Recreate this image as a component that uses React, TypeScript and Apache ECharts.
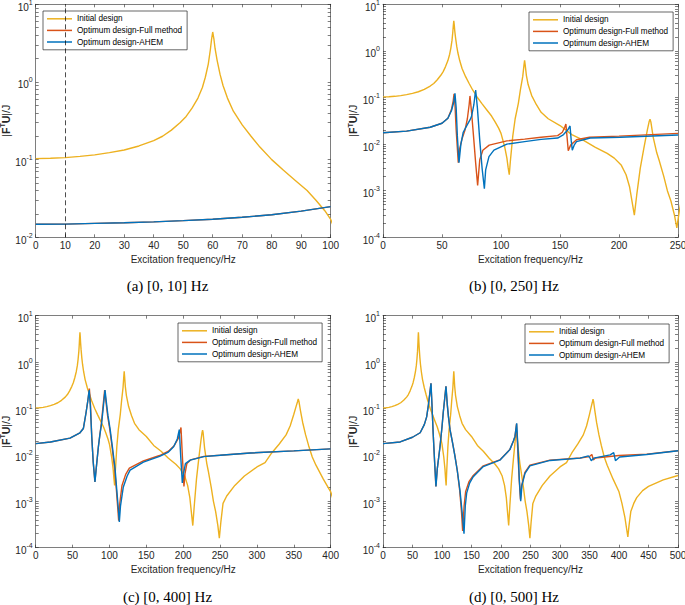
import React, { useEffect, useRef } from 'react';
import * as echarts from 'echarts';

const seriesNames = ['Initial design', 'Optimum design-Full method', 'Optimum design-AHEM'];
const seriesColors = ['#EDB120', '#D95319', '#0072BD'];
const captions = ['(a) [0, 10] Hz', '(b) [0, 250] Hz', '(c) [0, 400] Hz', '(d) [0, 500] Hz'];
const xMaxes = [100, 250, 400, 500];
const xIntervals = [10, 50, 50, 50];
const yMins = [0.01, 0.0001, 0.0001, 0.0001];
const yMaxes = [10, 10, 10, 10];
const markerFreq = 10;

// Initial design (same structure in every panel)
const initialDesign = [
  [0, 0.103], [5, 0.104], [10, 0.106], [15, 0.11], [20, 0.115], [25, 0.123], [30, 0.133], [35, 0.15], [40, 0.176],
  [43, 0.2], [46, 0.24], [49, 0.3], [51, 0.36], [53, 0.46], [55, 0.62], [56.5, 0.85], [57.5, 1.15], [58.5, 1.7],
  [59.2, 2.6], [59.6, 3.5], [60, 4.4], [60.4, 3.6], [60.8, 2.7], [61.5, 1.9], [62.5, 1.25], [63.5, 0.9], [65, 0.62],
  [67, 0.42], [70, 0.28], [73, 0.2], [76, 0.145], [80, 0.1], [84, 0.073], [88, 0.054], [92, 0.04], [95, 0.03],
  [98, 0.022], [100, 0.017], [103, 0.009], [105, 0.005], [106, 0.0032], [107, 0.0022], [108, 0.0045], [110, 0.015],
  [112, 0.035], [114.7, 0.075], [116.5, 0.15], [118.4, 0.28], [119.5, 0.5], [120, 0.63], [120.5, 0.5], [121.5, 0.3],
  [123, 0.19], [126, 0.11], [130, 0.07], [134, 0.048], [140, 0.035], [150, 0.025], [160, 0.016], [170, 0.012],
  [180, 0.0085], [190, 0.0063], [196, 0.005], [202, 0.0035], [206, 0.0022], [209, 0.0012], [211, 0.0006], [213, 0.0003],
  [215, 0.0008], [218, 0.003], [221, 0.008], [224, 0.02], [225.5, 0.03], [226.3, 0.034], [227, 0.03], [229, 0.014],
  [232, 0.0065], [234, 0.0045], [238, 0.002], [241, 0.001], [244, 0.0006], [247, 0.0003], [249, 0.00016], [251, 0.00035],
  [254, 0.0009], [259, 0.0013], [270, 0.0022], [283, 0.0035], [300, 0.0055], [311, 0.0068], [320, 0.011], [330, 0.017],
  [339.5, 0.027], [345, 0.042], [350, 0.075], [353, 0.11], [355, 0.14], [356, 0.16], [357, 0.14], [359, 0.09],
  [362, 0.05], [366, 0.027], [370, 0.016], [375, 0.009], [380, 0.006], [390, 0.003], [400, 0.0016], [405, 0.0009],
  [410, 0.00045], [413, 0.00025], [415, 0.00017], [417, 0.0003], [420, 0.0006], [425, 0.0009], [430, 0.0012],
  [440, 0.0017], [450, 0.0021], [475, 0.0029], [500, 0.0036],
];

// (a) [0, 10] Hz
const fullA = [
  [0, 0.0147], [10, 0.0148], [20, 0.0151], [30, 0.0154], [40, 0.0158], [50, 0.0164], [60, 0.0171], [70, 0.0181],
  [80, 0.0195], [90, 0.0217], [100, 0.0248],
];
const ahemA = [
  [0, 0.0147], [10, 0.0148], [20, 0.0151], [30, 0.0154], [40, 0.0158], [50, 0.0164], [60, 0.0171], [70, 0.0181],
  [80, 0.0195], [90, 0.0217], [100, 0.0248],
];

// (b) [0, 250] Hz
const fullB = [
  [0, 0.0175], [20, 0.019], [40, 0.023], [50, 0.028], [55, 0.036], [58, 0.055], [59.5, 0.085], [60.2, 0.12], [61, 0.07],
  [62, 0.02], [63.8, 0.004], [65, 0.008], [67, 0.013], [69.5, 0.02], [71.5, 0.035], [73, 0.07], [73.7, 0.108], [75, 0.05],
  [77, 0.012], [78.5, 0.004], [80.2, 0.0013], [82, 0.0046], [84.6, 0.0074], [90, 0.0095], [105, 0.0117], [120, 0.0128],
  [134, 0.014], [148, 0.0152], [152, 0.018], [154, 0.023], [155, 0.027], [156, 0.014], [157, 0.0072], [159, 0.0095],
  [164, 0.0124], [175, 0.014], [200, 0.0148], [250, 0.017],
];
const ahemB = [
  [0, 0.0175], [20, 0.019], [40, 0.023], [50, 0.028], [55, 0.036], [58, 0.052], [60, 0.08], [61, 0.123], [62, 0.06],
  [63, 0.015], [64.4, 0.004], [66, 0.01], [68, 0.018], [71, 0.025], [73.7, 0.033], [75, 0.039], [77, 0.07], [78.5, 0.145],
  [80, 0.06], [82, 0.012], [84, 0.003], [85.9, 0.0011], [87, 0.0028], [89.8, 0.0054], [94, 0.0074], [105, 0.01],
  [120, 0.0113], [134, 0.0126], [148, 0.0135], [153, 0.016], [156.5, 0.02], [158.5, 0.0245], [159.5, 0.012],
  [160.4, 0.0074], [162, 0.0095], [164, 0.0113], [175.6, 0.0135], [201, 0.014], [250, 0.0157],
];

// (c) [0, 400] Hz
const fullC = [
  [0, 0.0175], [20, 0.019], [46.5, 0.023], [60, 0.03], [64.6, 0.037], [68.2, 0.08], [70.5, 0.14], [72.8, 0.27],
  [74.3, 0.12], [76, 0.025], [78, 0.007], [80.2, 0.0026], [82, 0.005], [85, 0.015], [87, 0.027], [89, 0.048],
  [91.5, 0.12], [93.5, 0.25], [95.5, 0.13], [97.5, 0.07], [100.5, 0.035], [103.5, 0.015], [107, 0.0051], [109.5, 0.0017],
  [111.3, 0.0007], [112.5, 0.00038], [114, 0.0009], [117, 0.0022], [122, 0.0038], [127, 0.0052], [146, 0.0074],
  [168, 0.0097], [180, 0.012], [188, 0.016], [193.5, 0.023], [197, 0.039], [198.8, 0.01], [201, 0.0021], [202.5, 0.004],
  [205, 0.0065], [210, 0.0078], [228, 0.0093], [250, 0.0098], [291, 0.011], [350, 0.0122], [400, 0.0135],
];
const ahemC = [
  [0, 0.0175], [20, 0.019], [46.5, 0.023], [60, 0.03], [64.6, 0.037], [68.2, 0.08], [70.5, 0.14], [72.5, 0.25],
  [74, 0.12], [76, 0.025], [78, 0.007], [80.4, 0.0026], [82, 0.005], [85, 0.015], [87, 0.027], [89.4, 0.048],
  [92, 0.12], [94, 0.25], [96, 0.13], [98, 0.07], [101, 0.035], [104, 0.015], [107.6, 0.0051], [110, 0.0017],
  [112, 0.0007], [113.4, 0.00036], [115, 0.0008], [118.7, 0.002], [124, 0.0035], [128, 0.0047], [146, 0.007],
  [168, 0.0093], [180, 0.0115], [187, 0.015], [192, 0.022], [194.7, 0.035], [196.5, 0.01], [198.8, 0.0025],
  [200.5, 0.004], [203, 0.0065], [209.5, 0.0077], [228, 0.0092], [250, 0.0098], [291, 0.011], [350, 0.0122], [400, 0.0135],
];

// (d) [0, 500] Hz
const fullD = [
  [0, 0.0175], [29, 0.019], [50, 0.024], [63, 0.03], [70, 0.045], [74, 0.066], [77, 0.12], [79.5, 0.22], [81.2, 0.35],
  [83, 0.12], [85, 0.03], [87.5, 0.007], [89.6, 0.0021], [92, 0.005], [96.6, 0.015], [100, 0.04], [102, 0.079],
  [104.5, 0.16], [106.6, 0.3], [109, 0.12], [111, 0.065], [113.6, 0.035], [118, 0.018], [122, 0.0095], [126, 0.0045],
  [130, 0.0017], [133, 0.0006], [135, 0.00023], [137.5, 0.0008], [140, 0.0016], [146, 0.0027], [153, 0.0036],
  [170, 0.0058], [198, 0.0078], [215, 0.013], [221, 0.02], [223.7, 0.025], [226.3, 0.047], [228.5, 0.012],
  [230.8, 0.003], [233, 0.0011], [235, 0.0022], [240.5, 0.0042], [249, 0.006], [283, 0.0077], [334, 0.0086],
  [350, 0.0092], [354, 0.0102], [356.5, 0.0078], [360, 0.0086], [400, 0.0097], [447, 0.0104], [500, 0.0123],
];
const ahemD = [
  [0, 0.0175], [29, 0.019], [50, 0.024], [63, 0.03], [70, 0.045], [74, 0.066], [77, 0.12], [79.5, 0.22], [81.4, 0.35],
  [83, 0.12], [85, 0.03], [87.5, 0.007], [89.8, 0.0021], [92, 0.005], [96.6, 0.015], [100, 0.04], [102, 0.079],
  [104.5, 0.16], [106.8, 0.3], [109, 0.12], [111, 0.065], [113.6, 0.035], [118, 0.018], [122, 0.0092], [126, 0.0045],
  [130.5, 0.0017], [134, 0.0006], [137.3, 0.0002], [139.5, 0.0008], [141.8, 0.0015], [147, 0.0025], [153, 0.0034],
  [170, 0.0056], [198, 0.0077], [215, 0.013], [221, 0.02], [223.7, 0.025], [226.6, 0.048], [229, 0.012], [231, 0.003],
  [233.4, 0.001], [235.5, 0.0022], [240.7, 0.004], [249, 0.0058], [283, 0.0076], [334, 0.0085], [348, 0.0095],
  [351, 0.0085], [353, 0.0075], [357, 0.0085], [385, 0.01], [391, 0.0112], [394, 0.0075], [401, 0.009], [447, 0.0102],
  [500, 0.0123],
];

const fullSets = [fullA, fullB, fullC, fullD];
const ahemSets = [ahemA, ahemB, ahemC, ahemD];

// layout (pixels)
const gridRects = [
  { left: 35.7, top: 4.3, width: 295, height: 233 },
  { left: 383, top: 4.3, width: 295, height: 233 },
  { left: 35.7, top: 315.7, width: 295, height: 232 },
  { left: 383, top: 315.7, width: 295, height: 232 },
];
const captionPos = [[167.5, 286], [514, 286], [167.5, 597], [514, 597]];
const legendPos = [[43, 11], [529, 12], [178, 323], [525, 324]];

const SANS = '"Liberation Sans", Arial, Helvetica, sans-serif';
const SERIF = '"Liberation Serif", "Times New Roman", serif';
const AXIS = '#262626';

function logTicks(min: number, max: number) {
  const out: number[] = [];
  const e0 = Math.round(Math.log10(min));
  const e1 = Math.round(Math.log10(max));
  for (let e = e0; e < e1; e++) {
    for (let m = 1; m <= 9; m++) out.push(Number(`${m}e${e}`));
  }
  out.push(Number(`1e${e1}`));
  return out;
}

function buildOption() {
  const grid: any[] = [];
  const xAxis: any[] = [];
  const yAxis: any[] = [];
  const series: any[] = [];
  const legend: any[] = [];
  const graphic: any[] = [];
  const lineStyleAxis = { color: AXIS, width: 0.6 };

  for (let i = 0; i < 4; i++) {
    grid.push({ ...gridRects[i], containLabel: false, outerBoundsMode: 'none' });
    xAxis.push({
      type: 'value', gridIndex: i, min: 0, max: xMaxes[i], interval: xIntervals[i], position: 'bottom',
      axisLine: { show: true, onZero: false, lineStyle: lineStyleAxis },
      axisTick: { show: true, inside: true, length: 3, lineStyle: lineStyleAxis },
      axisLabel: { show: true, margin: 3, fontSize: 10, color: AXIS, fontFamily: SANS, showMinLabel: true, showMaxLabel: true },
      splitLine: { show: false },
      name: 'Excitation frequency/Hz', nameLocation: 'middle', nameGap: 17,
      nameTextStyle: { fontSize: 10, color: AXIS, fontFamily: SANS },
    });
    xAxis.push({
      type: 'value', gridIndex: i, min: 0, max: xMaxes[i], interval: xIntervals[i], position: 'top',
      axisLine: { show: true, onZero: false, lineStyle: lineStyleAxis },
      axisTick: { show: true, inside: true, length: 3, lineStyle: lineStyleAxis },
      axisLabel: { show: false }, splitLine: { show: false },
    });
    const ticks = logTicks(yMins[i], yMaxes[i]);
    yAxis.push({
      type: 'log', logBase: 10, gridIndex: i, min: yMins[i], max: yMaxes[i], position: 'left',
      axisLine: { show: true, onZero: false, lineStyle: lineStyleAxis },
      axisTick: { show: true, inside: true, length: 3, lineStyle: lineStyleAxis, customValues: ticks },
      axisLabel: {
        show: true, margin: 3, color: AXIS, fontFamily: SANS,
        formatter: (v: number) => `{b|10}{s|${Math.round(Math.log10(v))}}`,
        rich: {
          b: { fontSize: 10, color: AXIS, fontFamily: SANS, padding: [6, 0, 0, 0] },
          s: { fontSize: 7, color: AXIS, fontFamily: SANS, padding: [0, 0, 4, 0] },
        },
      },
      splitLine: { show: false },
      name: '|{b|F}{t|T}{b|U}|/J', nameLocation: 'middle', nameGap: 20, nameRotate: 90,
      nameTextStyle: {
        fontSize: 10.5, color: AXIS, fontFamily: SANS,
        rich: {
          b: { fontSize: 10.5, fontWeight: 'bold', color: AXIS, fontFamily: SANS },
          t: { fontSize: 7, fontWeight: 'bold', color: AXIS, fontFamily: SANS, padding: [0, 0, 6, 0] },
        },
      },
    });
    yAxis.push({
      type: 'log', logBase: 10, gridIndex: i, min: yMins[i], max: yMaxes[i], position: 'right',
      axisLine: { show: true, onZero: false, lineStyle: lineStyleAxis },
      axisTick: { show: true, inside: true, length: 3, lineStyle: lineStyleAxis, customValues: ticks },
      axisLabel: { show: false }, splitLine: { show: false },
    });

    const dataSets = [initialDesign, fullSets[i], ahemSets[i]];
    for (let k = 0; k < 3; k++) {
      const s: any = {
        type: 'line', name: seriesNames[k], xAxisIndex: 2 * i, yAxisIndex: 2 * i,
        data: dataSets[k], showSymbol: false, symbol: 'none', clip: true,
        color: seriesColors[k],
        lineStyle: { color: seriesColors[k], width: 1.4 },
        itemStyle: { color: seriesColors[k] },
      };
      if (i === 0 && k === 2) {
        s.markLine = {
          silent: true, symbol: ['none', 'none'], label: { show: false },
          lineStyle: { color: '#000', type: [5, 3], width: 0.7 },
          data: [{ xAxis: markerFreq }],
        };
      }
      series.push(s);
    }

    legend.push({
      left: legendPos[i][0], top: legendPos[i][1], orient: 'vertical',
      data: seriesNames, icon: 'rect', itemWidth: 25, itemHeight: 1.5, itemGap: 0,
      padding: [2, 5, 2, 4], borderColor: AXIS, borderWidth: 0.7, backgroundColor: '#fff', borderRadius: 0,
      selectedMode: false,
      textStyle: { fontSize: 8.2, fontFamily: SANS, color: '#000', lineHeight: 11.6 },
    });

    graphic.push({
      type: 'text', x: captionPos[i][0], y: captionPos[i][1],
      style: {
        text: captions[i], fill: '#000', fontSize: 15, fontFamily: SERIF,
        align: 'center', verticalAlign: 'middle', textAlign: 'center', textVerticalAlign: 'middle',
      },
    });
  }

  return {
    animation: false,
    backgroundColor: '#fff',
    textStyle: { fontFamily: SANS },
    grid, xAxis, yAxis, series, legend, graphic,
  };
}

export default function App() {
  const ref = useRef<HTMLDivElement>(null);
  useEffect(() => {
    document.body.style.margin = '0';
    if (!ref.current) return;
    const chart = echarts.init(ref.current, null, { renderer: 'svg' });
    chart.setOption(buildOption() as any);
    return () => chart.dispose();
  }, []);
  return <div ref={ref} style={{ width: 685, height: 605 }} />;
}
